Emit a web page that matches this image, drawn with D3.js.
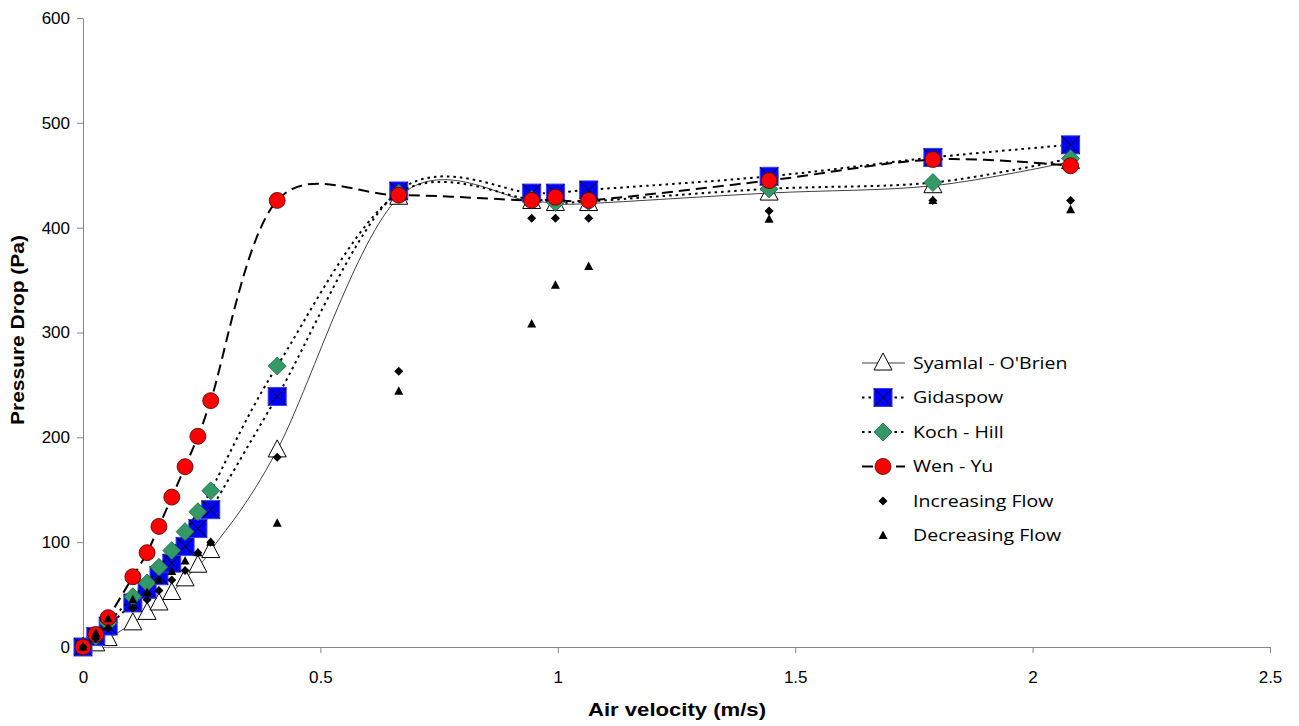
<!DOCTYPE html>
<html><head><meta charset="utf-8">
<script src="https://cdn.jsdelivr.net/npm/d3@7"></script>
<style>body{margin:0;background:#fff}svg{display:block}</style>
</head><body>
<svg id="c" width="1299" height="726"></svg>
<script>
const velocity = [0, 0.027, 0.053, 0.105, 0.135, 0.16, 0.187, 0.215, 0.242, 0.269, 0.409, 0.665, 0.945, 0.995, 1.065, 1.445, 1.79, 2.08];
const syamlal  = [0, 3, 8, 23, 33, 42, 52, 65, 78, 92, 188, 429, 425, 423, 423, 433, 440, 463];
const gidaspow = [0, 10, 20, 42, 55, 68, 80, 96, 113, 131, 239, 435, 433, 433, 436, 449, 467, 479];
const kochHill = [0, 10, 23, 48, 61, 76, 92, 110, 129, 149, 268, 433, 427, 424, 425, 437, 443, 466];
const wenYu    = [0, 12, 28, 67, 90, 115, 143, 172, 201, 235, 426, 431, 426, 429, 426, 445, 465, 459];
const increasing = [0, 8, 18, 37, 45, 54, 64, 73, 90, 100, 181, 263, 409, 409, 409, 416, 426, 426];
const decreasing = [0, 13, 27, 45, 52, 64, 72, 82, 90, 100, 118, 244, 308, 345, 363, 408, 426, 417];
const xTicks = [0, 0.5, 1, 1.5, 2, 2.5];
const yTicks = [0, 100, 200, 300, 400, 500, 600];
const seriesNames = ["Syamlal - O'Brien", "Gidaspow", "Koch - Hill", "Wen - Yu", "Increasing Flow", "Decreasing Flow"];

const svg = d3.select("#c");
const x = d3.scaleLinear().domain([0, 2.5]).range([83, 1270]);
const y = d3.scaleLinear().domain([0, 600]).range([647, 18]);
const font = "'Liberation Sans', Arial, sans-serif";
const axisColor = "#868686";

// axes
const xa = svg.append("g").attr("transform", "translate(0,647)")
  .call(d3.axisBottom(x).tickValues(xTicks).tickSize(6).tickSizeOuter(0).tickFormat(d3.format("")));
const ya = svg.append("g").attr("transform", "translate(83,0)")
  .call(d3.axisLeft(y).tickValues(yTicks).tickSize(6).tickSizeOuter(0));
[xa, ya].forEach(a => {
  a.select(".domain").attr("stroke", axisColor).attr("stroke-width", 1);
  a.selectAll(".tick line").attr("stroke", axisColor);
  a.selectAll("text").attr("font-family", font).attr("font-size", 17).attr("fill", "#000");
});
xa.selectAll("text").attr("y", 30).attr("dy", "0.35em");
ya.selectAll("text").attr("x", -13);

svg.append("text").attr("x", 677).attr("y", 716).attr("text-anchor", "middle")
  .attr("font-family", font).attr("font-weight", "bold").attr("font-size", 19)
  .attr("textLength", 178).attr("lengthAdjust", "spacingAndGlyphs").text("Air velocity (m/s)");
svg.append("text").attr("transform", "translate(24,330) rotate(-90)").attr("text-anchor", "middle")
  .attr("font-family", font).attr("font-weight", "bold").attr("font-size", 19)
  .attr("textLength", 190).attr("lengthAdjust", "spacingAndGlyphs").text("Pressure Drop (Pa)");

const styles = [
  {vals: syamlal, stroke: "#404040", width: 1, dash: null, marker: "tri"},
  {vals: gidaspow, stroke: "#000", width: 2, dash: "2.5,4", marker: "sq"},
  {vals: kochHill, stroke: "#000", width: 2, dash: "2.5,4", marker: "dia"},
  {vals: wenYu, stroke: "#000", width: 2, dash: "11,6", marker: "circ"},
  {vals: increasing, stroke: null, marker: "sdia"},
  {vals: decreasing, stroke: null, marker: "stri"}
];

function drawMarker(g, kind, cx, cy) {
  if (kind === "tri") {
    g.append("path").attr("d", `M${cx},${cy-10}L${cx+9},${cy+7}L${cx-9},${cy+7}Z`)
      .attr("fill", "#fff").attr("stroke", "#000").attr("stroke-width", 1);
  } else if (kind === "sq") {
    g.append("rect").attr("x", cx-9).attr("y", cy-9).attr("width", 18).attr("height", 18)
      .attr("fill", "#0000ff").attr("stroke", "#3b3bff").attr("stroke-width", 1);
    g.append("path").attr("d", `M${cx-9},${cy-9}L${cx+9},${cy+9}M${cx+9},${cy-9}L${cx-9},${cy+9}`)
      .attr("stroke", "#000").attr("stroke-width", 1);
  } else if (kind === "dia") {
    g.append("path").attr("d", `M${cx},${cy-9}L${cx+9},${cy}L${cx},${cy+9}L${cx-9},${cy}Z`)
      .attr("fill", "#339966").attr("stroke", "#1f5f40").attr("stroke-width", 0.8);
  } else if (kind === "circ") {
    g.append("circle").attr("cx", cx).attr("cy", cy).attr("r", 8)
      .attr("fill", "#ff0000").attr("stroke", "#400000").attr("stroke-width", 0.8);
  } else if (kind === "sdia") {
    g.append("path").attr("d", `M${cx},${cy-4.5}L${cx+4.5},${cy}L${cx},${cy+4.5}L${cx-4.5},${cy}Z`).attr("fill", "#000");
  } else if (kind === "stri") {
    g.append("path").attr("d", `M${cx},${cy-5}L${cx+4.5},${cy+3.5}L${cx-4.5},${cy+3.5}Z`).attr("fill", "#000");
  }
}

const line = d3.line().x(d => x(d[0])).y(d => y(d[1])).curve(d3.curveCardinal.tension(0));

styles.forEach(s => {
  const g = svg.append("g");
  const pts = velocity.map((v, i) => [v, s.vals[i]]);
  if (s.stroke) {
    g.append("path").attr("d", line(pts)).attr("fill", "none").attr("stroke", s.stroke)
      .attr("stroke-width", s.width).attr("stroke-dasharray", s.dash);
  }
  pts.forEach(p => drawMarker(g, s.marker, x(p[0]), y(p[1])));
});

// legend
const lg = svg.append("g");
seriesNames.forEach((name, i) => {
  const s = styles[i];
  const cy = 363 + i * 34.5;
  if (s.stroke) {
    lg.append("line").attr("x1", 862).attr("x2", 905).attr("y1", cy).attr("y2", cy)
      .attr("stroke", s.stroke).attr("stroke-width", s.width).attr("stroke-dasharray", s.dash);
  }
  drawMarker(lg, s.marker, 883, cy);
  lg.append("text").attr("transform", `translate(913,${cy}) scale(1.15,1)`).attr("dy", "0.35em")
    .attr("font-family", "'Open Sans', sans-serif").attr("font-size", 17).text(name);
});
</script>
</body></html>
